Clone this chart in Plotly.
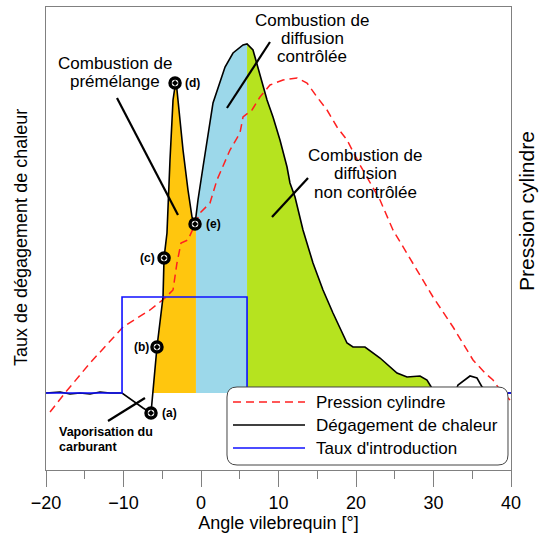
import numpy as np
import plotly.graph_objects as go

# Heat release rate (arbitrary units) vs crank angle [deg]
hr_angle = [-20.0, -18.19, -16.9, -15.61, -14.32, -13.03, -11.74, -10.19, -7.48, -6.45,
            -5.68, -4.9, -4.77, -4.39, -4.0, -3.61, -3.23, -2.97, -2.32, -1.68, -1.16,
            -0.77, -0.39, 0.26, 0.77, 1.55, 3.1, 4.13, 5.42, 5.94, 6.71, 7.35, 8.52,
            9.29, 10.19, 11.1, 11.48, 12.13, 12.77, 13.16, 14.45, 15.74, 17.03, 18.84,
            19.61, 21.16, 23.1, 25.29, 26.58, 28.26, 29.16, 29.94, 30.84, 32.77, 33.16,
            34.71, 35.61, 36.26, 37.29, 40.0]
hr_rate = [0, 1, -1, 0, -1, 1, 0, 0, -15, -20,
           46, 96, 135, 160, 233, 293, 313, 293, 243, 203, 176,
           169, 193, 226, 253, 290, 326, 340, 348, 349, 343, 326, 293,
           276, 253, 226, 210, 196, 176, 163, 130, 103, 80, 50,
           46, 46, 35, 20, 16, 17, 13, 3, 0, 0, 8,
           17, 15, 6, 0, 0]

# Cylinder pressure (arbitrary units)
p_angle = [-19.48, -17.55, -14.32, -10.06, -6.58, -4.65, -3.61, -3.1, -2.58, -1.68,
           -0.13, 1.16, 2.06, 3.74, 5.03, 5.42, 6.58, 7.61, 8.9, 10.58, 12.39, 13.68,
           14.97, 16.26, 17.55, 18.84, 20.52, 23.1, 24.77, 27.35, 29.94, 32.52, 35.1,
           36.65, 37.68, 38.58, 39.87]
p_cyl = [-19, 0, 30, 66, 83, 95, 103, 130, 150, 153,
         180, 190, 213, 243, 260, 276, 283, 296, 308, 313, 315, 310,
         296, 283, 266, 253, 228, 193, 163, 130, 96, 66, 33,
         20, 13, 3, -7]

# Injection rate (Taux d'introduction)
inj_angle = [-20, -10.19, -10.19, 5.94, 5.94, 40]
inj_rate = [0, 0, 96, 96, 0, 0]

# Marked points on the heat release curve
point_labels = ["(a)", "(b)", "(c)", "(d)", "(e)"]
point_angle = [-6.45, -5.68, -4.77, -3.35, -0.77]
point_rate = [-20, 46, 135, 310, 169]

# Combustion phases
phase_edges = [-6.22, -0.65, 5.94, 30.84]
phase_colors = ["#ffc60e", "#9cd8ea", "#b6e31f"]

FONT = "Liberation Sans, Arial, sans-serif"

# plot area in pixels: x 46..511, y 7..470
def pxx(p):
    return (p - 46) / 465

def pxy(p):
    return (470 - p) / 463


x_arr = np.array(hr_angle, dtype=float)
y_arr = np.array(hr_rate, dtype=float)


def phase_segment(x0, x1):
    m = (x_arr > x0) & (x_arr < x1)
    xs = np.concatenate([[x0], x_arr[m], [x1]])
    ys = np.concatenate([[np.interp(x0, x_arr, y_arr)], y_arr[m], [np.interp(x1, x_arr, y_arr)]])
    return xs, np.maximum(ys, 0)


fig = go.Figure()

for i, col in enumerate(phase_colors):
    xs, ys = phase_segment(phase_edges[i], phase_edges[i + 1])
    fig.add_trace(go.Scatter(x=xs, y=ys, mode="lines", fill="tozeroy", fillcolor=col,
                             line=dict(width=0, color=col), showlegend=False, hoverinfo="skip"))

fig.add_trace(go.Scatter(x=p_angle, y=p_cyl, mode="lines", name="Pression cylindre",
                         line=dict(color="#ff2020", width=1.5, dash="8px,5px"), showlegend=False))
fig.add_trace(go.Scatter(x=hr_angle, y=hr_rate, mode="lines", name="Dégagement de chaleur",
                         line=dict(color="black", width=1.6), showlegend=False))
fig.add_trace(go.Scatter(x=inj_angle, y=inj_rate, mode="lines", name="Taux d'introduction",
                         line=dict(color="#1010ff", width=1.6), showlegend=False))
fig.add_trace(go.Scatter(x=point_angle, y=point_rate, mode="markers", showlegend=False,
                         marker=dict(symbol="circle-dot", size=10, color="white",
                                     line=dict(color="black", width=3.5))))

label_shift = [18, -15, -17, 17, 18]
annotations = []
for lab, xa, ya, sh in zip(point_labels, point_angle, point_rate, label_shift):
    annotations.append(dict(x=xa, y=ya, text="<b>%s</b>" % lab, showarrow=False, xshift=sh,
                            font=dict(size=12, color="black", family=FONT)))


def text_block(lines, x, ys, size=17, anchor="center", bold=False):
    for line, y in zip(lines, ys):
        annotations.append(dict(xref="paper", yref="paper", x=pxx(x), y=pxy(y), text=line,
                                xanchor=anchor, yanchor="middle", showarrow=False,
                                font=dict(size=size, color="black", family=FONT)))


text_block(["Combustion de", "prémélange"], 115, [63, 82])
text_block(["Combustion de", "diffusion", "contrôlée"], 312, [21, 39, 57])
text_block(["Combustion de", "diffusion", "non contrôlée"], 365, [155, 173, 192])
text_block(["<b>Vaporisation du</b>", "<b>carburant</b>"], 57, [432, 447], size=12.5, anchor="left")

annotations += [
    dict(xref="paper", yref="paper", x=pxx(21), y=pxy(238), xanchor="center", yanchor="middle",
         text="Taux de dégagement de chaleur", textangle=-90, showarrow=False,
         font=dict(size=18, color="black", family=FONT)),
    dict(xref="paper", yref="paper", x=pxx(526), y=pxy(211), xanchor="center", yanchor="middle",
         text="Pression cylindre", textangle=-90, showarrow=False,
         font=dict(size=21, color="black", family=FONT)),
]

# pointer lines
shapes = []
for (x0, y0, x1, y1) in [(-10.84, 295, -2.97, 178), (8.9, 351, 3.35, 285),
                         (13.81, 215, 9.16, 176), (-12.0, -28, -7.23, -5)]:
    shapes.append(dict(type="line", x0=x0, y0=y0, x1=x1, y1=y1, line=dict(color="black", width=2.2)))

# hand-drawn legend with rounded box
bx0, bx1, by0, by1, r = 227, 508, 387, 465, 10
path = ("M%f,%f L%f,%f Q%f,%f %f,%f L%f,%f Q%f,%f %f,%f L%f,%f Q%f,%f %f,%f L%f,%f Q%f,%f %f,%f Z" % (
    pxx(bx0 + r), pxy(by0), pxx(bx1 - r), pxy(by0), pxx(bx1), pxy(by0), pxx(bx1), pxy(by0 + r),
    pxx(bx1), pxy(by1 - r), pxx(bx1), pxy(by1), pxx(bx1 - r), pxy(by1),
    pxx(bx0 + r), pxy(by1), pxx(bx0), pxy(by1), pxx(bx0), pxy(by1 - r),
    pxx(bx0), pxy(by0 + r), pxx(bx0), pxy(by0), pxx(bx0 + r), pxy(by0)))
shapes.append(dict(type="path", path=path, xref="paper", yref="paper", fillcolor="white",
                   line=dict(color="#444444", width=1), layer="above"))
legend_rows = [("Pression cylindre", "#ff2020", "8px,5px", 402),
               ("Dégagement de chaleur", "black", "solid", 425),
               ("Taux d'introduction", "#1010ff", "solid", 448)]
for name, col, dash, yp in legend_rows:
    shapes.append(dict(type="line", xref="paper", yref="paper", x0=pxx(233), x1=pxx(305),
                       y0=pxy(yp), y1=pxy(yp), line=dict(color=col, width=1.6, dash=dash), layer="above"))
    annotations.append(dict(xref="paper", yref="paper", x=pxx(314), y=pxy(yp), text=name,
                            xanchor="left", yanchor="middle", showarrow=False,
                            font=dict(size=17, color="black", family=FONT)))

axis_col = "#808080"
fig.update_layout(
    width=539, height=539,
    margin=dict(l=46, r=28, t=7, b=69),
    paper_bgcolor="white", plot_bgcolor="white",
    showlegend=False,
    annotations=annotations,
    shapes=shapes,
    font=dict(family=FONT, color="black"),
)
fig.update_xaxes(range=[-20, 40], tick0=-20, dtick=10, ticks="outside", ticklen=16, tickwidth=1,
                 tickcolor=axis_col, showline=True, linecolor=axis_col, linewidth=1, mirror=True,
                 showgrid=False, zeroline=False, tickfont=dict(size=18, color="black"),
                 minor=dict(dtick=5, ticks="outside", ticklen=8, tickcolor=axis_col, showgrid=False),
                 title=dict(text="Angle vilebrequin [°]", font=dict(size=18, color="black"), standoff=2))
fig.update_yaxes(range=[-77, 386], showticklabels=False, ticks="", showline=True, linecolor=axis_col,
                 linewidth=1, mirror=True, showgrid=False, zeroline=False)

# drop the default page margin so the figure sits at the window's top-left corner
fig.write_html("out.html", config={"displayModeBar": False},
               post_script="document.body.style.margin='0px';")
